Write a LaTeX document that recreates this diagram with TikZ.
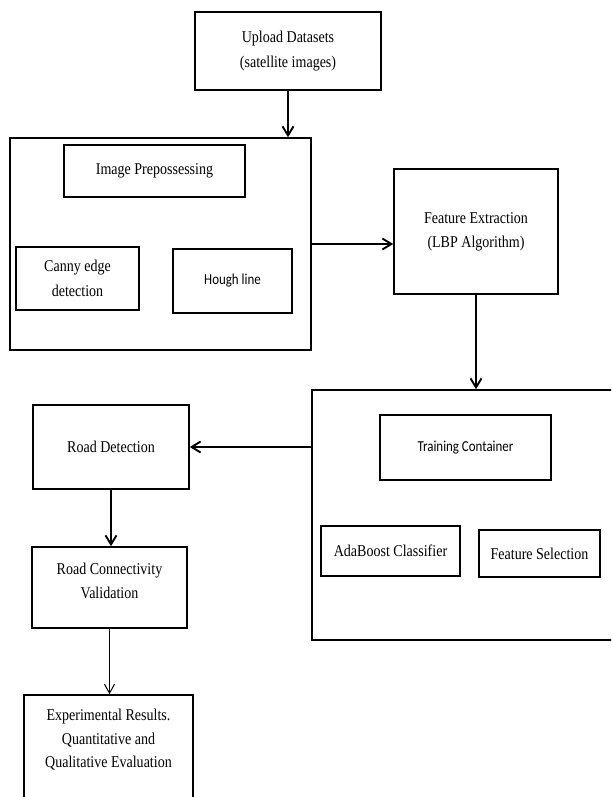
\documentclass[tikz,border=0pt]{standalone}
\usepackage{fontspec}
\setmainfont[FakeStretch=0.85]{Liberation Serif}
\newfontfamily\calfont[FakeStretch=0.85]{Carlito}
\usetikzlibrary{arrows.meta}
\tikzset{
  box/.style={draw, line width=1.6pt, inner sep=0pt, align=center,
    font=\fontsize{16.5}{24.3}\selectfont},
  calbox/.style={box, font=\calfont\fontsize{15.2}{18}\selectfont},
  txt/.style={inner sep=0pt, align=center, font=\fontsize{16.5}{23.5}\selectfont},
  arr/.style={line width=1.9pt, -{Straight Barb[length=9pt,width=11pt]}},
  thinarr/.style={line width=1pt, -{Straight Barb[length=9pt,width=10pt]}},
}
\begin{document}
\begin{tikzpicture}[x=1pt, y=-1pt]
\useasboundingbox (0,0) rectangle (611,797);
\clip (0,0) rectangle (611,797);
\fill[white] (0,0) rectangle (611,797);

% top
\node[box, minimum width=186pt, minimum height=78pt] (up) at (288,51)
  {Upload Datasets\\(satellite images)};

% preprocessing container
\node[box, minimum width=301pt, minimum height=212pt] (box1) at (160.5,244) {};
\node[box, minimum width=181pt, minimum height=52pt] (imgp) at (154.5,171)
  {Image Prepossessing};
\node[box, minimum width=123pt, minimum height=63pt] (canny) at (77.5,278.5)
  {Canny edge\\detection};
\node[calbox, minimum width=119pt, minimum height=64pt] (hough) at (232.5,281)
  {Hough line};

% feature extraction
\node[box, minimum width=164pt, minimum height=125pt] (fe) at (476,231.5)
  {Feature Extraction\\(LBP Algorithm)};

% training container
\node[box, minimum width=328pt, minimum height=250pt] (box2) at (476,515) {};
\node[calbox, minimum width=171pt, minimum height=65pt] (tc) at (465.5,447.5)
  {Training Container};
\node[box, minimum width=139pt, minimum height=50pt] (ada) at (390.5,551)
  {AdaBoost Classifier};
\node[box, minimum width=121pt, minimum height=47pt] (fs) at (539.5,553.5)
  {Feature Selection};

% left column
\node[box, minimum width=156pt, minimum height=84pt] (rd) at (111,447)
  {Road Detection};
\node[box, minimum width=155pt, minimum height=81pt] (rc) at (109.5,587.5) {};
\node[txt, font=\fontsize{16.5}{24.3}\selectfont] (rctxt) at (109.5,581)
  {Road Connectivity\\Validation};
\node[box, minimum width=169pt, minimum height=135pt] (ex) at (108.5,762.5) {};
\node[txt] (extxt) at (108.5,740)
  {Experimental Results.\\Quantitative and\\Qualitative Evaluation};

% connectors
\draw[arr] (up.south) -- (up.south |- box1.north);
\draw[arr] (box1.east) -- (fe.west |- box1.east);
\draw[arr] (fe.south) -- (fe.south |- box2.north);
\draw[arr] (box2.west |- rd.east) -- (rd.east);
\draw[arr] (rd.south) -- (rd.south |- rc.north);
\draw[thinarr] (rc.south) -- (rc.south |- ex.north);
\end{tikzpicture}
\end{document}
